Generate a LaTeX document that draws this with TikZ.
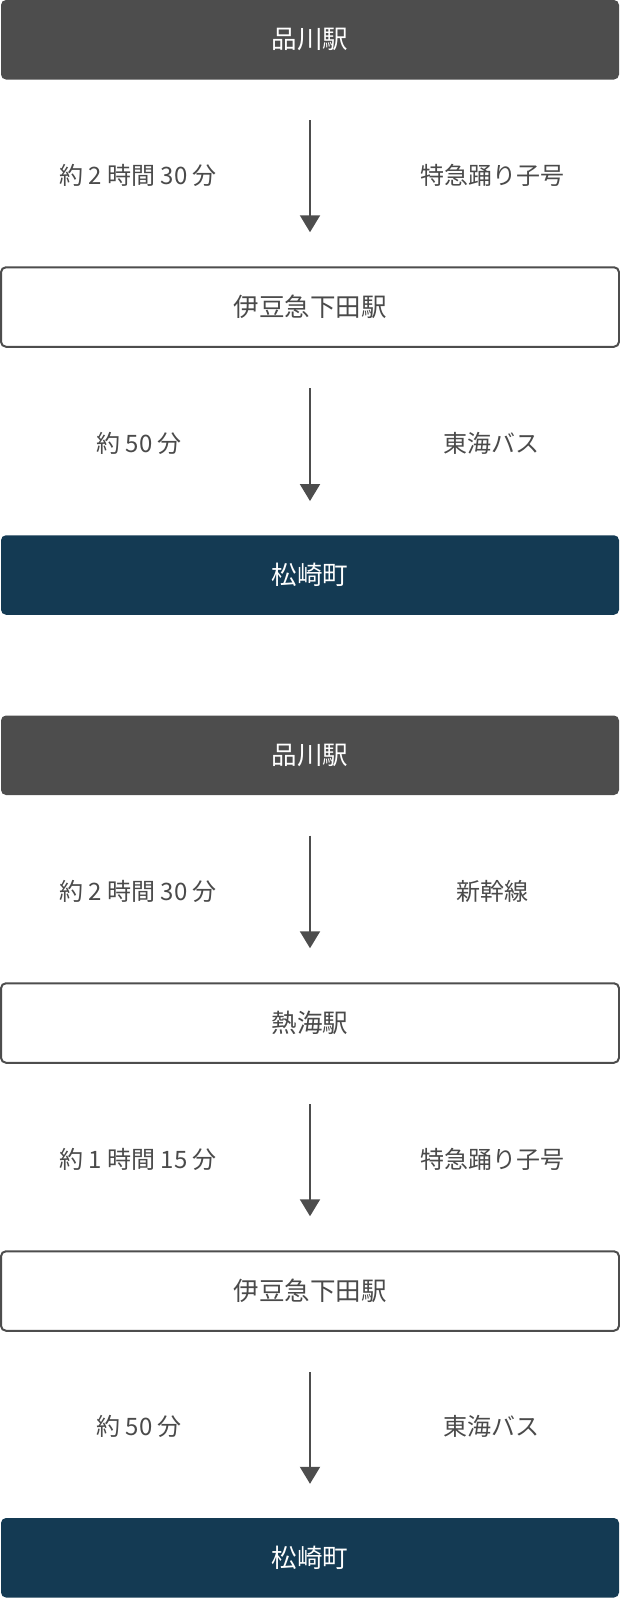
\documentclass[tikz,border=0pt]{standalone}
\usepackage{fontspec}
\setmainfont{Noto Sans CJK JP}
\usetikzlibrary{arrows.meta}
\definecolor{graybox}{RGB}{77,77,77}
\definecolor{navybox}{RGB}{20,58,83}
\definecolor{ink}{RGB}{74,74,74}
\tikzset{
  basebox/.style={rectangle, rounded corners=5pt, minimum width=618pt, minimum height=79.5pt, inner sep=0pt, font=\fontsize{25.5pt}{30pt}\selectfont},
  graystation/.style={basebox, fill=graybox, text=white},
  plainstation/.style={basebox, draw=graybox, line width=2pt, fill=white, text=ink},
  navystation/.style={basebox, fill=navybox, text=white},
  conn/.style={draw=graybox, line width=2pt, -{Triangle[width=20pt,length=17pt]}},
  timelabel/.style={text=ink, inner sep=0pt, font=\fontsize{24pt}{28pt}\selectfont},
}
\begin{document}
\begin{tikzpicture}[x=1pt,y=-1pt]
\useasboundingbox (0,0) rectangle (620,1598);
% route 1
\node[graystation]  (a1) at (310,39.75)   {品川駅};
\node[plainstation] (a2) at (310,307)     {伊豆急下田駅};
\node[navystation]  (a3) at (310,575)     {松崎町};
\draw[conn] ([yshift=-40.5pt]a1.south) -- ([yshift=34pt]a2.north);
\draw[conn] ([yshift=-40.5pt]a2.south) -- ([yshift=34pt]a3.north);
\node[timelabel] (t1) at (138,175.5) {約 2 時間 30 分};
\node[timelabel] (m1) at (492,175.5) {特急踊り子号};
\node[timelabel] (t2) at (139,443) {約 50 分};
\node[timelabel] (m2) at (491.5,443) {東海バス};
% route 2
\node[graystation]  (b1) at (310,755.25)  {品川駅};
\node[plainstation] (b2) at (310,1023)    {熱海駅};
\node[plainstation] (b3) at (310,1291)    {伊豆急下田駅};
\node[navystation]  (b4) at (310,1557.75) {松崎町};
\draw[conn] ([yshift=-40.5pt]b1.south) -- ([yshift=34pt]b2.north);
\draw[conn] ([yshift=-40.5pt]b2.south) -- ([yshift=34pt]b3.north);
\draw[conn] ([yshift=-40.5pt]b3.south) -- ([yshift=34pt]b4.north);
\node[timelabel] (t3) at (138,891.5) {約 2 時間 30 分};
\node[timelabel] (m3) at (492,891.5) {新幹線};
\node[timelabel] (t4) at (138,1159.5) {約 1 時間 15 分};
\node[timelabel] (m4) at (492,1159.5) {特急踊り子号};
\node[timelabel] (t5) at (139,1426.5) {約 50 分};
\node[timelabel] (m5) at (491.5,1426.5) {東海バス};
\end{tikzpicture}
\end{document}
